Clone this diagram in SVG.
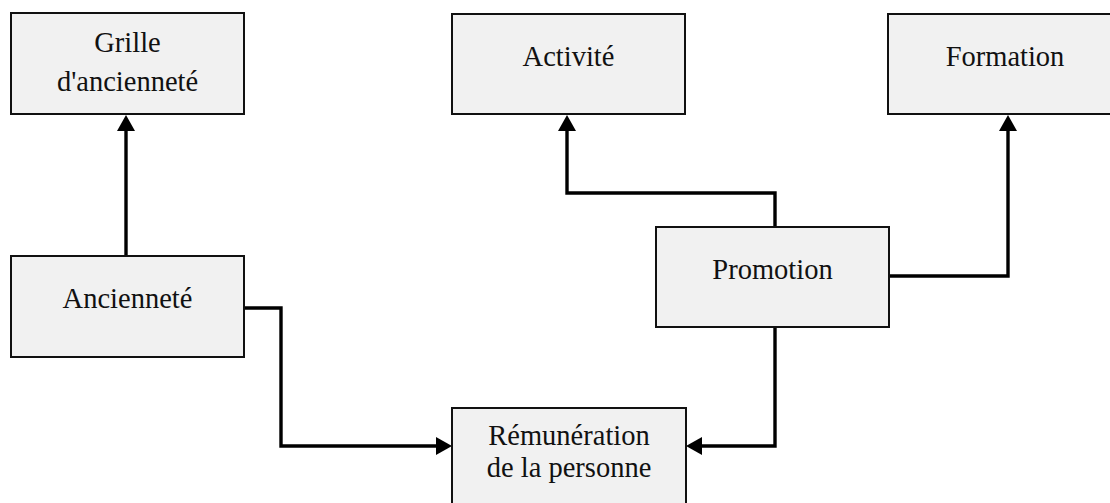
<svg xmlns="http://www.w3.org/2000/svg" width="1110" height="503" viewBox="0 0 1110 503">
  <style>
    .box { fill: #f1f1f1; stroke: #111; stroke-width: 2; }
    .lbl { font-family: 'Liberation Serif', 'Times New Roman', Tinos, 'DejaVu Serif', serif; font-size: 28.5px; fill: #111; text-anchor: middle; }
    .wire { fill: none; stroke: #000; stroke-width: 3.4; stroke-linejoin: miter; }
  </style>
  <defs>
    <marker id="arrow" viewBox="0 0 16 18" refX="5" refY="9" markerWidth="16" markerHeight="18" markerUnits="userSpaceOnUse" orient="auto">
      <path d="M0,0 L16,9 L0,18 Z" fill="#000"/>
    </marker>
  </defs>
  <rect width="1110" height="503" fill="#fff"/>

  <g id="connectors">
    <path class="wire" d="M126,256 V126" marker-end="url(#arrow)"/>
    <path class="wire" d="M244,308 H281 V446 H441" marker-end="url(#arrow)"/>
    <path class="wire" d="M775,227 V193 H567 V126" marker-end="url(#arrow)"/>
    <path class="wire" d="M775,327 V446 H697" marker-end="url(#arrow)"/>
    <path class="wire" d="M889,276 H1008 V126" marker-end="url(#arrow)"/>
  </g>

  <g id="grille">
    <rect class="box" x="11" y="13" width="233" height="101"/>
    <text class="lbl" x="127.5" y="52" font-family="Liberation Serif, serif">Grille</text>
    <text class="lbl" x="127.5" y="91" font-family="Liberation Serif, serif">d'ancienneté</text>
  </g>

  <g id="activite">
    <rect class="box" x="452" y="14" width="233" height="100"/>
    <text class="lbl" x="568.5" y="66">Activité</text>
  </g>

  <g id="formation">
    <rect class="box" x="888" y="14" width="234" height="100"/>
    <text class="lbl" x="1005" y="66">Formation</text>
  </g>

  <g id="anciennete">
    <rect class="box" x="11" y="256" width="233" height="101"/>
    <text class="lbl" x="127.5" y="308">Ancienneté</text>
  </g>

  <g id="promotion">
    <rect class="box" x="656" y="227" width="233" height="100"/>
    <text class="lbl" x="772.5" y="279">Promotion</text>
  </g>

  <g id="remuneration">
    <rect class="box" x="452" y="408" width="234" height="100"/>
    <text class="lbl" x="569" y="445">Rémunération</text>
    <text class="lbl" x="569" y="477">de la personne</text>
  </g>
</svg>
